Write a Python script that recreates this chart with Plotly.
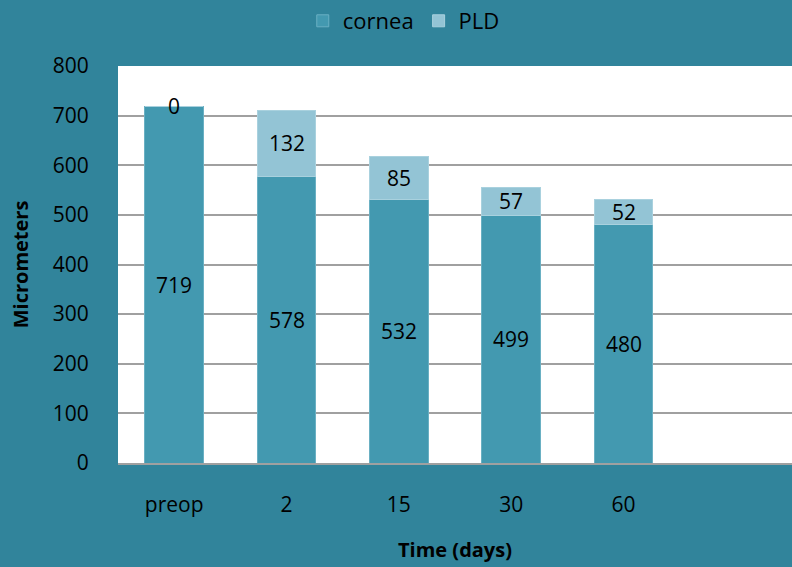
import plotly.graph_objects as go

# Stacked thickness data (micrometers)
categories = ["preop", "2", "15", "30", "60"]
cornea = [719, 578, 532, 499, 480]
pld = [0, 132, 85, 57, 52]

BG = "#31849B"
CORNEA_COLOR = "#4399B0"
PLD_COLOR = "#93C4D5"
FONT = "Open Sans"

fig = go.Figure()
fig.add_trace(go.Bar(
    name="cornea", x=categories, y=cornea,
    marker=dict(color=CORNEA_COLOR, line=dict(color="#6AB0C3", width=1)),
    width=0.52,
))
fig.add_trace(go.Bar(
    name="PLD", x=categories, y=pld,
    marker=dict(color=PLD_COLOR, line=dict(color="#A9D1DE", width=1)),
    width=0.52,
))

# Value labels centred in each segment (x given as category index)
annotations = []
for i, (a, b) in enumerate(zip(cornea, pld)):
    annotations.append(dict(x=i, y=a / 2, text=str(a), showarrow=False,
                            font=dict(family=FONT, size=21, color="black")))
    annotations.append(dict(x=i, y=a + b / 2, text=str(b), showarrow=False,
                            font=dict(family=FONT, size=21, color="black")))

fig.update_layout(
    barmode="stack",
    width=792, height=567,
    paper_bgcolor=BG, plot_bgcolor="white",
    margin=dict(l=118, r=0, t=66, b=104),
    font=dict(family=FONT, size=21, color="black"),
    showlegend=True,
    legend=dict(orientation="h", traceorder="normal", x=0.424, xanchor="center",
                y=1.0, yref="container", yanchor="top",
                font=dict(family=FONT, size=22, color="black"),
                bgcolor="rgba(0,0,0,0)"),
    annotations=annotations,
    xaxis=dict(
        type="category", categoryorder="array", categoryarray=categories,
        range=[-0.5, 5.5], showgrid=False, showline=True, linecolor="#A0A0A0", linewidth=2,
        ticks="outside", ticklen=22, tickcolor="rgba(0,0,0,0)",
        tickfont=dict(family=FONT, size=21, color="black"),
        title=dict(text="<b>Time (days)</b>", font=dict(family=FONT, size=20, color="black"),
                   standoff=26),
    ),
    yaxis=dict(
        range=[0, 800], dtick=100, showgrid=True, gridcolor="#A0A0A0", gridwidth=2,
        zeroline=False, showline=False,
        ticks="outside", ticklen=24, tickcolor="rgba(0,0,0,0)",
        tickfont=dict(family=FONT, size=21, color="black"),
        title=dict(text="<b>Micrometers</b>", font=dict(family=FONT, size=20, color="black"),
                   standoff=18),
    ),
)

fig.write_html("out.html")
